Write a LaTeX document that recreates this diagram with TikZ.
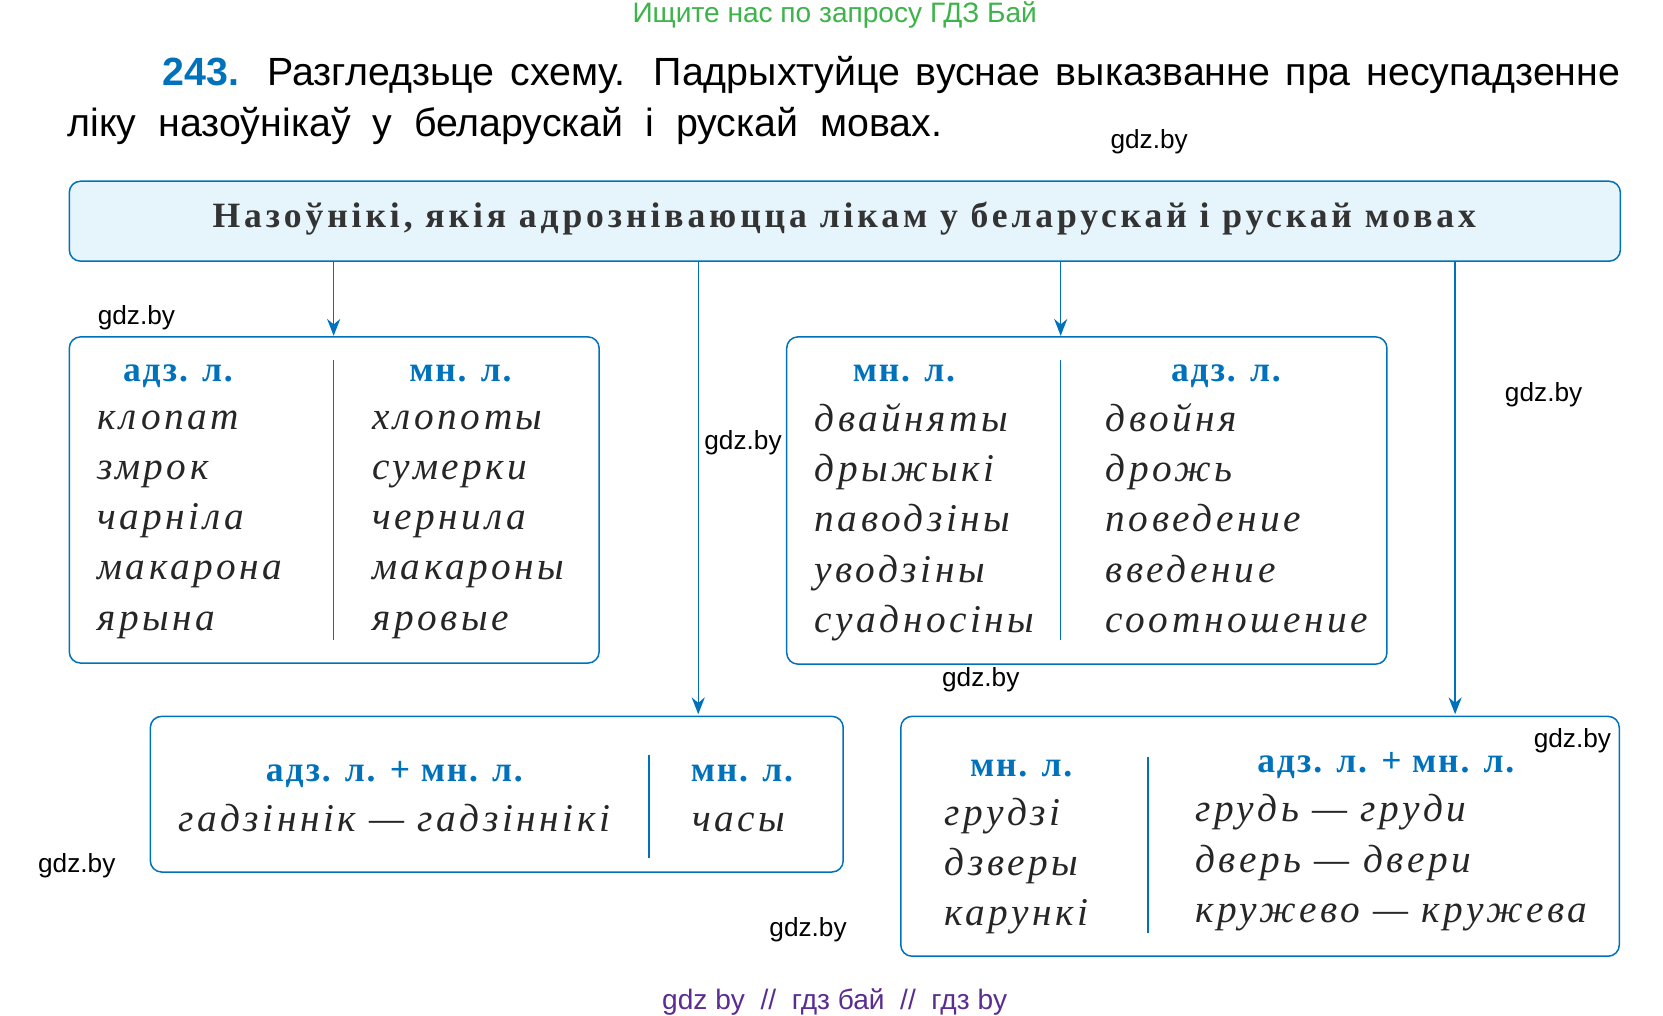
\documentclass[tikz,border=0pt]{standalone}
\usepackage{fontspec}
\setmainfont{Liberation Serif}
\newfontfamily\gsans{Liberation Sans}
\newfontfamily\wide[LetterSpace=9]{Liberation Serif}
\newfontfamily\widehead[LetterSpace=5]{Liberation Serif}
\newfontfamily\widetitle[LetterSpace=11]{Liberation Serif}
\usetikzlibrary{positioning,arrows.meta}
\definecolor{hblue}{RGB}{0,114,188}
\definecolor{tfill}{RGB}{230,244,251}
\definecolor{wgreen}{RGB}{60,180,74}
\definecolor{wpurple}{RGB}{90,45,145}
\begin{document}
\begin{tikzpicture}[x=0.02cm,y=-0.02cm,
  tbox/.style={draw=hblue,thick,rounded corners=6pt,fill=white},
  head/.style={font=\widehead\fontsize{19}{19}\selectfont\bfseries,text=hblue,anchor=base},
  word/.style={font=\wide\fontsize{21}{21}\selectfont\itshape,anchor=base west,text=black!85},
  wmark/.style={font=\gsans\fontsize{14}{14}\selectfont},
  sep/.style={draw=hblue,thick},
  link/.style={draw=hblue,thick,-{Stealth[length=9pt,width=7pt]}}]
  \useasboundingbox (0,0) rectangle (1560,953);
  % heading texts
  \node[text=wgreen,font=\gsans\fontsize{15}{15}\selectfont] (ad) at (783,14) {Ищите нас по запросу ГДЗ Бай};
  \node[anchor=west,inner sep=0,font=\gsans\fontsize{21}{21}\selectfont] (q1) at (152,70)
    {\makebox[27.36cm][s]{\textbf{\color{hblue}243.} Разгледзьце схему. Падрыхтуйце вуснае выказванне пра несупадзенне}};
  \node[anchor=west,inner sep=0,font=\gsans\fontsize{21}{21}\selectfont] (q2) at (63,118)
    {ліку \ назоўнікаў \ у \ беларускай \ і \ рускай \ мовах.};
  % title box
  \draw[draw=hblue,thick,rounded corners=6pt,fill=tfill] (65,170) rectangle (1520,245);
  \node[font=\widetitle\fontsize{19}{19}\selectfont\bfseries,text=black!80] (title) at (792,205)
    {Назоўнікі, якія адрозніваюцца лікам у беларускай і рускай мовах};
  % boxes
  \draw[tbox] (65,316) rectangle (562,622);
  \draw[tbox] (738,316) rectangle (1301,623);
  \draw[tbox] (141,672) rectangle (791,818);
  \draw[tbox] (845,672) rectangle (1519,897);
  \coordinate (a1) at (313,245); \coordinate (a1e) at (313,315);
  \coordinate (a2) at (655,245); \coordinate (a2e) at (655,670);
  \coordinate (a3) at (995,245); \coordinate (a3e) at (995,315);
  \coordinate (a4) at (1365,245); \coordinate (a4e) at (1365,670);
  \draw[link] (a1) -- (a1e); \draw[link] (a2) -- (a2e);
  \draw[link] (a3) -- (a3e); \draw[link] (a4) -- (a4e);
  \draw[sep] (313,338) -- (313,600);
  \draw[sep] (995,338) -- (995,600);
  \draw[sep] (609,708) -- (609,805);
  \draw[sep] (1077,710) -- (1077,875);
  % box A
  \node[head] (ha1) at (167,358) {адз. л.};
  \node[head] (ha2) at (432,358) {мн. л.};
  \foreach \l/\r [count=\i] in {клопат/хлопоты,змрок/сумерки,чарніла/чернила,макарона/макароны,ярына/яровые}
    {\node[word] at (85,{356+47*\i}) {\l}; \node[word] at (343,{356+47*\i}) {\r};}
  % box B
  \node[head] (hb1) at (848,358) {мн. л.};
  \node[head] (hb2) at (1150,358) {адз. л.};
  \foreach \l/\r [count=\i] in {двайняты/двойня,дрыжыкі/дрожь,паводзіны/поведение,уводзіны/введение,суадносіны/соотношение}
    {\node[word] at (758,{358+47*\i}) {\l}; \node[word] at (1031,{358+47*\i}) {\r};}
  % box C
  \node[head] (hc1) at (370,733) {адз. л. + мн. л.};
  \node[head] (hc2) at (696,733) {мн. л.};
  \node[word] (wc1) at (161,780) {гадзіннік — гадзіннікі};
  \node[word] (wc2) at (643,780) {часы};
  % box D
  \node[head] (hd1) at (958,728) {мн. л.};
  \node[head] (hd2) at (1300,725) {адз. л. + мн. л.};
  \foreach \l/\r [count=\i] in {грудзі/грудь — груди,дзверы/дверь — двери,карункі/кружево — кружева}
    {\node[word] at (880,{727+47*\i}) {\l}; \node[word] at (1115,{724+47*\i}) {\r};}
  % watermarks
  \foreach \x/\y [count=\i] in {1078/133,128/298,697/415,1448/370,920/638,1475/695,72/812,758/872}
    \node[wmark] (wm\i) at (\x,\y) {gdz.by};
  \node[text=wpurple,font=\gsans\fontsize{15}{15}\selectfont] (foot) at (783,940)
    {gdz by \ // \ гдз бай \ // \ гдз by};
\end{tikzpicture}
\end{document}
